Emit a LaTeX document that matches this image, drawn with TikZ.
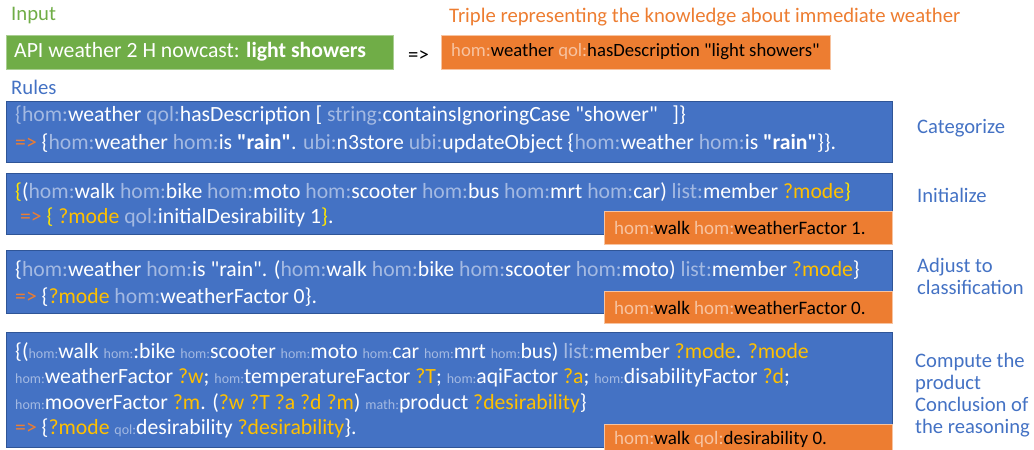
\documentclass[tikz,border=0pt]{standalone}
\usepackage{fontspec}
\setmainfont{Carlito}[Ligatures=TeXOff]
\definecolor{cgreen}{HTML}{70AD47}
\definecolor{corange}{HTML}{ED7D31}
\definecolor{cblue}{HTML}{4472C4}
\definecolor{cblueedge}{HTML}{2F5597}
\definecolor{pre}{HTML}{A3B9E2}
\definecolor{preor}{HTML}{F7C3A0}
\definecolor{var}{HTML}{FFC000}
\definecolor{brace}{HTML}{FFE500}
\newcommand\pf[1]{\textcolor{pre}{#1}}
\newcommand\spf[1]{{\fontsize{14}{16}\selectfont\textcolor{pre}{#1}}}
\newcommand\po[1]{\textcolor{preor}{#1}}
\newcommand\vr[1]{\textcolor{var}{#1}}
\newcommand\qq{"}
\newcommand\arr{\textcolor{corange}{=>}}
\begin{document}
\begin{tikzpicture}[x=1pt,y=-1pt,
  txt/.style={anchor=west,inner sep=0pt,font=\fontsize{21.7}{26}\selectfont},
  head/.style={anchor=west,inner sep=0pt,font=\fontsize{20.7}{24}\selectfont},
  lbl/.style={anchor=west,inner sep=0pt,font=\fontsize{20.6}{22}\selectfont,text=cblue,align=left},
  rulebox/.style={anchor=north west,inner sep=0pt,fill=cblue,draw=cblueedge,line width=0.6pt,minimum width=886pt},
  resbox/.style={anchor=north west,inner sep=0pt,fill=corange,draw=preor,line width=0.6pt,minimum width=288pt},
  code/.style={txt,text=white},
  res/.style={anchor=west,inner sep=0pt,font=\fontsize{19}{22}\selectfont,text=black}]
\useasboundingbox (0,0) rectangle (1034,450);

% headings
\node[head,text=cgreen] (hin) at (11,16) {Input};
\node[head,text=corange] (htr) at (449,17) {Triple representing the knowledge about immediate weather};
\node[head,text=cblue] (hru) at (11,87) {Rules};

% input and its triple
\node[anchor=north west,inner sep=0pt,fill=cgreen,draw=cgreen!60!white,line width=0.6pt,minimum width=387pt,minimum height=34pt] (inbox) at (6,35) {};
\node[code] (intext) at (14,52) {API weather 2 H nowcast: \textbf{light showers}};
\node[head] (imp) at (408,56) {=>};
\node[resbox,minimum width=389pt,minimum height=34pt] (tribox) at (441,35) {};
\node[res,font=\fontsize{18.7}{22}\selectfont] (tritext) at (451,52) {\po{hom:}weather \po{qol:}hasDescription \qq light showers\qq};

% rule 1
\node[rulebox,minimum height=61pt] (r1) at (6,101) {};
\node[code] (r1a) at (15,116) {\pf{\{}\pf{hom:}weather \pf{qol:}hasDescription [ \pf{string:}containsIgnoringCase \qq shower\qq\ \ \ ]\}};
\node[code] (r1b) at (15,144) {\arr{} \{\pf{hom:}weather \pf{hom:}is \textbf{\qq rain\qq}. \pf{ubi:}n3store \pf{ubi:}updateObject \{\pf{hom:}weather \pf{hom:}is \textbf{\qq rain\qq}\}\}.};
\node[lbl] (l1) at (917,128) {Categorize};

% rule 2
\node[rulebox,minimum height=61pt] (r2) at (6,173) {};
\node[code] (r2a) at (15,192) {\textcolor{brace}{\{}(\pf{hom:}walk \pf{hom:}bike \pf{hom:}moto \pf{hom:}scooter \pf{hom:}bus \pf{hom:}mrt \pf{hom:}car) \pf{list:}member \vr{?mode}\textcolor{brace}{\}}};
\node[code] (r2b) at (15,217) {\ \arr{} \textcolor{brace}{\{} \vr{?mode} \pf{qol:}initialDesirability 1\textcolor{brace}{\}}.};
\node[resbox,minimum height=33pt] (o2) at (604,211) {};
\node[res] (o2t) at (614,228) {\po{hom:}walk \po{hom:}weatherFactor 1.};
\node[lbl] (l2) at (917,195) {Initialize};

% rule 3
\node[rulebox,minimum height=63pt] (r3) at (6,250) {};
\node[code] (r3a) at (15,270) {\{\pf{hom:}weather \pf{hom:}is \qq rain\qq. (\pf{hom:}walk \pf{hom:}bike \pf{hom:}scooter \pf{hom:}moto) \pf{list:}member \vr{?mode}\}};
\node[code] (r3b) at (15,297) {\arr{} \{\vr{?mode} \pf{hom:}weatherFactor 0\}.};
\node[resbox,minimum height=32pt] (o3) at (604,291) {};
\node[res] (o3t) at (614,308) {\po{hom:}walk \po{hom:}weatherFactor 0.};
\node[lbl] (l3) at (917,276) {Adjust to\\classification};

% rule 4
\node[rulebox,minimum height=115pt] (r4) at (6,332) {};
\node[code] (r4a) at (15,352) {\{(\spf{hom:}walk \spf{hom:}:bike \spf{hom:}scooter \spf{hom:}moto \spf{hom:}car \spf{hom:}mrt \spf{hom:}bus) \pf{list:}member \vr{?mode}. \vr{?mode}};
\node[code] (r4b) at (15,378) {\spf{hom:}weatherFactor \vr{?w}; \spf{hom:}temperatureFactor \vr{?T}; \spf{hom:}aqiFactor \vr{?a}; \spf{hom:}disabilityFactor \vr{?d};};
\node[code] (r4c) at (15,403) {\spf{hom:}mooverFactor \vr{?m}. (\vr{?w ?T ?a ?d ?m}) \spf{math:}product \vr{?desirability}\}};
\node[code] (r4d) at (15,428) {\arr{} \{\vr{?mode} \spf{qol:}desirability \vr{?desirability}\}.};
\node[resbox,minimum height=28pt] (o4) at (604,424) {};
\node[res] (o4t) at (614,439) {\po{hom:}walk \po{qol:}desirability 0.};
\node[lbl] (l4) at (915,395) {Compute the\\product\\Conclusion of\\the reasoning};
\end{tikzpicture}
\end{document}
